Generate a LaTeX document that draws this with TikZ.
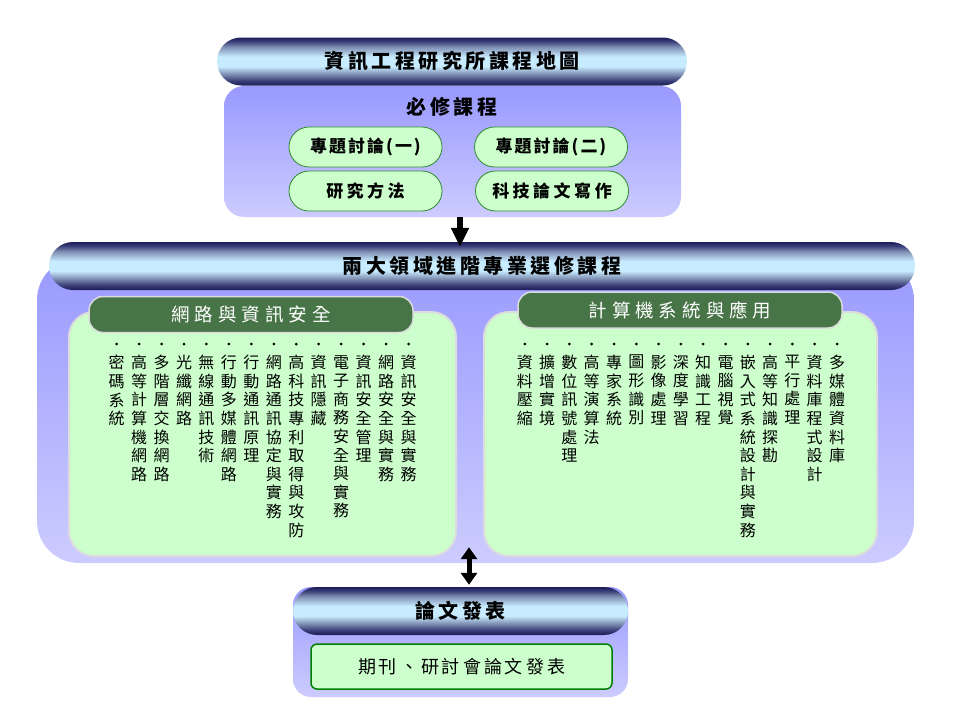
\documentclass[tikz,border=0pt]{standalone}
\usepackage{fontspec}
\setmainfont{Noto Sans CJK TC}
\usetikzlibrary{arrows.meta}
\definecolor{bdark}{HTML}{1C1C58}
\definecolor{bmid2}{HTML}{3A3E78}
\definecolor{bmid}{HTML}{8090B4}
\definecolor{blight}{HTML}{C8ECFF}
\definecolor{lavtop}{HTML}{9999FF}
\definecolor{lavbot}{HTML}{CCCCFF}
\definecolor{pale}{HTML}{CCFFCC}
\definecolor{pillline}{HTML}{2E8B2E}
\definecolor{hdr}{HTML}{487548}
\definecolor{rim}{HTML}{DCDCDC}
\definecolor{inline}{HTML}{008000}
\pgfdeclareverticalshading{barshade}{100bp}{color(0bp)=(bdark); color(25bp)=(bdark); color(30bp)=(bmid2); color(37bp)=(bmid); color(45bp)=(blight); color(55bp)=(blight); color(65bp)=(bmid); color(71bp)=(bmid2); color(75bp)=(bdark); color(100bp)=(bdark)}
\def\vgobble#1{}
\def\lspA#1#2{#1\ifx\relax#2\expandafter\vgobble\else\lspsep\expandafter\lspA\fi#2}
\newcommand\lsp[2]{\def\lspsep{\hspace{#1}}\lspA#2\relax}
\def\vcA#1#2{#1\ifx\relax#2\expandafter\vgobble\else\\\expandafter\vcA\fi#2}
\newcommand\vcol[1]{\expandafter\vcA#1\relax}
\begin{document}
\begin{tikzpicture}[x=1pt,y=-1pt,
  bar/.style={shade, shading=barshade, rounded corners=24pt, minimum height=48pt, inner sep=0pt, font=\fontsize{20}{24}\selectfont\bfseries},
  lavbox/.style={top color=lavtop, bottom color=lavbot, inner sep=0pt},
  boxlabel/.style={inner sep=0pt, font=\fontsize{20}{24}\selectfont\bfseries},
  pill/.style={draw=pillline, line width=0.8pt, fill=pale, rounded corners=20pt, minimum width=153pt, minimum height=40pt, inner sep=0pt, font=\fontsize{17}{20}\selectfont\bfseries},
  panel/.style={draw=rim, line width=2pt, fill=pale, rounded corners=25pt, minimum height=244pt, inner sep=0pt},
  header/.style={draw=rim, line width=1.5pt, fill=hdr, text=white, rounded corners=14pt, minimum width=324pt, minimum height=36pt, inner sep=0pt, font=\fontsize{18.5}{22}\selectfont},
  colt/.style={anchor=north, inner sep=0pt, align=center, font=\fontsize{16}{18.6}\selectfont},
  bullet/.style={fill=black},
  bigarrow/.style={line width=6pt, -{Triangle[width=17pt,length=19pt]}},
  dblarrow/.style={line width=5pt, {Triangle[width=16pt,length=12pt]}-{Triangle[width=16pt,length=12pt]}}
]
\useasboundingbox (0,0) rectangle (960,720);
% required courses
\node[lavbox, rounded corners=20pt, minimum width=457pt, minimum height=131pt] (req) at (452.5,151.5) {};
\node[bar, minimum width=470pt] (title) at (452,61.5) {\lsp{3.5pt}{資訊工程研究所課程地圖}};
\node[boxlabel] (reqlabel) at (452,107) {\lsp{3.5pt}{必修課程}};
\node[pill] (p1) at (365.5,147) {\lsp{2pt}{專題討論(一)}};
\node[pill] (p2) at (551,147) {\lsp{2pt}{專題討論(二)}};
\node[pill] (p3) at (365.5,191) {\lsp{3.5pt}{研究方法}};
\node[pill] (p4) at (552,191) {\lsp{3.5pt}{科技論文寫作}};
% electives
\node[lavbox, rounded corners=42pt, minimum width=877pt, minimum height=305pt] (mid) at (475.5,410.5) {};
\node[bar, minimum width=866pt] (midbar) at (482,266) {\lsp{3.5pt}{兩大領域進階專業選修課程}};
\node[panel, minimum width=387pt] (lpanel) at (262.5,434) {};
\node[panel, minimum width=393pt] (rpanel) at (680.5,434) {};
\node[header] (lhead) at (251,314.5) {\lsp{5pt}{網路與資訊安全}};
\node[header] (rhead) at (680,310) {\lsp{5pt}{計算機系統與應用}};
\foreach \t [count=\i] in {資訊安全與實務,網路安全與實務,資訊安全管理,電子商務安全與實務,資訊隱藏,高科技專利取得與攻防,網路通訊協定與實務,行動通訊原理,行動多媒體網路,無線通訊技術,光纖網路,多階層交換網路,高等計算機網路,密碼系統}{
  \fill[bullet] ({408.5-(\i-1)*22.45},344) circle (1.5pt);
  \node[colt] (L\i) at ({408.5-(\i-1)*22.45},355) {\vcol{\t}};
}
\foreach \t [count=\i] in {多媒體資料庫,資料庫程式設計,平行處理,高等知識探勘,嵌入式系統設計與實務,電腦視覺,知識工程,深度學習,影像處理,圖形識別,專家系統,高等演算法,數位訊號處理,擴增實境,資料壓縮}{
  \fill[bullet] ({837-(\i-1)*22.3},344) circle (1.5pt);
  \node[colt] (R\i) at ({837-(\i-1)*22.3},355) {\vcol{\t}};
}
% publication
\node[lavbox, rounded corners=18pt, minimum width=335pt, minimum height=110pt] (pub) at (460.5,642) {};
\node[bar, minimum width=335pt] (pubbar) at (460.5,611) {\lsp{3.5pt}{論文發表}};
\node[draw=inline, line width=1.5pt, fill=pale, rounded corners=6pt, minimum width=301pt, minimum height=45pt, inner sep=0pt, font=\fontsize{18}{22}\selectfont] (pubtext) at (461.5,666.5) {\lsp{3pt}{期刊、研討會論文發表}};
% arrows
\draw[bigarrow, shorten >=-5pt] ([xshift=7.5pt]req.south) -- ([xshift=7.5pt]req.south |- midbar.north);
\draw[dblarrow, shorten <=2pt, shorten >=-16pt] ([xshift=8.5pt]pubbar.north) -- ([xshift=8.5pt]pubbar.north |- mid.south);
\end{tikzpicture}
\end{document}
